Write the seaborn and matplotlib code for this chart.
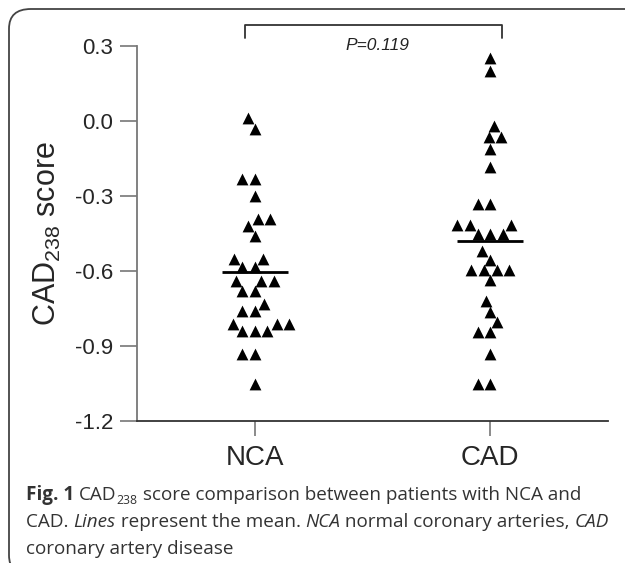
import matplotlib as mpl
import seaborn as sns
import pandas as pd
import numpy as np
from matplotlib.patches import FancyBboxPatch
plt = mpl.pyplot

# values
groups = ['NCA', 'CAD']
nca = [0.01, -0.03, -0.23, -0.23, -0.30, -0.39, -0.39, -0.42, -0.46,
       -0.55, -0.55, -0.585, -0.585, -0.64, -0.64, -0.64, -0.68, -0.68,
       -0.73, -0.76, -0.76, -0.81, -0.81, -0.81, -0.84, -0.84, -0.84,
       -0.93, -0.93, -1.05]
cad = [0.25, 0.20, -0.02, -0.063, -0.063, -0.11, -0.185, -0.33, -0.33,
       -0.415, -0.415, -0.415, -0.45, -0.45, -0.45, -0.52, -0.555,
       -0.595, -0.595, -0.595, -0.595, -0.635, -0.72, -0.765, -0.805,
       -0.845, -0.845, -0.93, -1.05, -1.05]
yticks = [0.3, 0.0, -0.3, -0.6, -0.9, -1.2]
pval = 'P=0.119'

data = pd.DataFrame({'group': ['NCA'] * len(nca) + ['CAD'] * len(cad),
                     'score': nca + cad})

sns.set_style('ticks')
mpl.rcParams['font.family'] = ['Liberation Sans', 'DejaVu Sans']
mpl.rcParams['mathtext.fontset'] = 'custom'
mpl.rcParams['mathtext.rm'] = 'Liberation Sans'

fig = plt.figure(figsize=(6.25, 5.63), dpi=100)
ax = fig.add_axes([0.2192, 0.2522, 0.7536, 0.6661])

sns.swarmplot(x='group', y='score', data=data, order=groups, marker='^',
              color='black', size=8.5, linewidth=0, ax=ax)

# mean lines
for i, g in enumerate(groups):
    m = data.loc[data.group == g, 'score'].mean()
    ax.hlines(m, i - 0.14, i + 0.14, color='black', lw=2)

ax.set_xlim(-0.5, 1.5)
ax.set_ylim(-1.2, 0.3)
ax.set_yticks(yticks)
ax.set_yticklabels(['%.1f' % t for t in yticks])
ax.set_xlabel('')
ax.set_ylabel('CAD$_{238}$ score', fontsize=22, labelpad=9)
ax.tick_params(axis='y', labelsize=16, length=12, width=1.2, color='#777777', pad=5)
ax.tick_params(axis='x', labelsize=20, length=11, width=1.2, color='#777777', pad=6)
ax.spines['top'].set_visible(False)
ax.spines['right'].set_visible(False)
ax.spines['left'].set_color('#777777')
ax.spines['left'].set_linewidth(1.3)
ax.spines['bottom'].set_color('#333333')
ax.spines['bottom'].set_linewidth(1.3)

# significance bracket
ax.plot([-0.043, -0.043, 1.051, 1.051], [0.332, 0.384, 0.384, 0.332],
        color='#333333', lw=1.3, clip_on=False)
ax.text(0.52, 0.303, pval, ha='center', va='center', fontsize=12.5,
        style='italic', color='#222222')

# caption, drawn piece by piece
cap_font = ['Open Sans', 'DejaVu Sans']
cap_size = 13.6
lines = [
    [('Fig. 1 ', 'bold', 'normal', 0), ('CAD', 'normal', 'normal', 0),
     ('238', 'normal', 'normal', -1),
     (' score comparison between patients with NCA and', 'normal', 'normal', 0)],
    [('CAD. ', 'normal', 'normal', 0), ('Lines', 'normal', 'italic', 0),
     (' represent the mean. ', 'normal', 'normal', 0), ('NCA', 'normal', 'italic', 0),
     (' normal coronary arteries, ', 'normal', 'normal', 0), ('CAD', 'normal', 'italic', 0)],
    [('coronary artery disease', 'normal', 'normal', 0)],
]
renderer = fig.canvas.get_renderer()
W, H = fig.get_size_inches() * fig.dpi
y0 = 495
for li, parts in enumerate(lines):
    x = 26
    ybase = y0 + li * 27
    for txt, weight, style, sub in parts:
        size = cap_size * 0.65 if sub else cap_size
        yy = ybase + (5 if sub else 0)
        t = fig.text(x / W, 1 - yy / H, txt, fontsize=size, fontweight=weight,
                     style=style, family=cap_font, color='#333333', va='center',
                     ha='left')
        x += t.get_window_extent(renderer).width

# rounded frame around the figure (runs off the right and bottom edges)
frame = FancyBboxPatch((9 / W, 1 - 575 / H), 660 / W, 566 / H,
                       boxstyle='round,pad=0,rounding_size=0.035',
                       transform=fig.transFigure, fill=False,
                       edgecolor='#444444', lw=1.3, clip_on=False)
fig.patches.append(frame)

fig.savefig('out.png', dpi=100)
